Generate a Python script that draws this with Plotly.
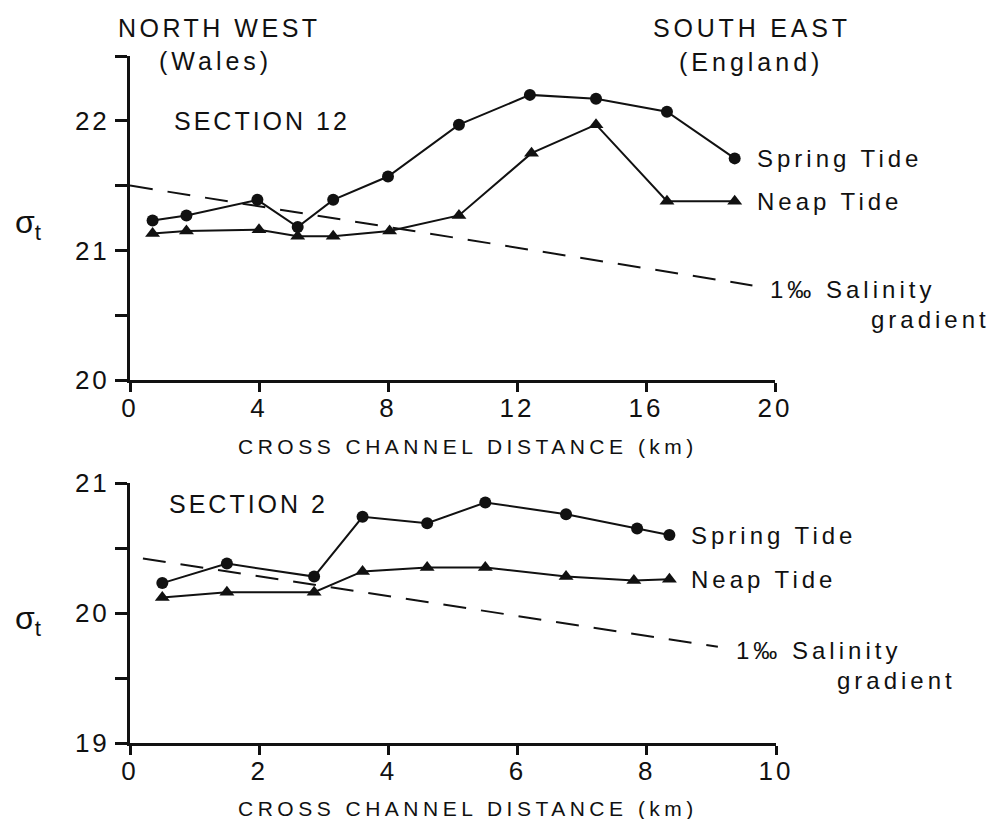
import plotly.graph_objects as go

# ---- data: Section 12 (cross-channel distance in km, sigma-t) ----
s12_spring_x = [0.7, 1.75, 3.95, 5.2, 6.3, 8.0, 10.2, 12.4, 14.45, 16.65, 18.75]
s12_spring_y = [21.23, 21.27, 21.39, 21.18, 21.39, 21.57, 21.97, 22.2, 22.17, 22.07, 21.71]
s12_neap_x = [0.7, 1.75, 4.0, 5.2, 6.3, 8.05, 10.2, 12.45, 14.45, 16.65, 18.75]
s12_neap_y = [21.13, 21.15, 21.16, 21.11, 21.11, 21.15, 21.27, 21.75, 21.97, 21.38, 21.38]
s12_grad_x = [0.0, 19.3]
s12_grad_y = [21.5, 20.73]

# ---- data: Section 2 ----
s2_spring_x = [0.5, 1.5, 2.85, 3.6, 4.6, 5.5, 6.75, 7.85, 8.35]
s2_spring_y = [20.23, 20.38, 20.28, 20.74, 20.69, 20.85, 20.76, 20.65, 20.6]
s2_neap_x = [0.5, 1.5, 2.85, 3.6, 4.6, 5.5, 6.75, 7.8, 8.35]
s2_neap_y = [20.12, 20.16, 20.16, 20.32, 20.35, 20.35, 20.28, 20.25, 20.26]
s2_grad_x = [0.2, 9.1]
s2_grad_y = [20.42, 19.74]

s12_xticks = [0, 4, 8, 12, 16, 20]
s2_xticks = [0, 2, 4, 6, 8, 10]
s12_yticks = [20, 21, 22]
s2_yticks = [19, 20, 21]

W, H = 995, 819
FONT = "Liberation Sans, Arial, Helvetica, sans-serif"
INK = "#111111"


def px(x):
    return x / W


def py(y):
    return 1 - y / H


def spaced(text, sp=4):
    return f'<span style="letter-spacing:{sp}px">{text}</span>'


fig = go.Figure()

line_style = dict(color=INK, width=2)
for xs, ys, xa, ya in [
    (s12_spring_x, s12_spring_y, "x", "y"),
    (s2_spring_x, s2_spring_y, "x2", "y2"),
]:
    fig.add_trace(go.Scatter(x=xs, y=ys, xaxis=xa, yaxis=ya, mode="lines+markers",
                             line=line_style,
                             marker=dict(symbol="circle", size=12, color=INK),
                             showlegend=False))
for xs, ys, xa, ya in [
    (s12_neap_x, s12_neap_y, "x", "y"),
    (s2_neap_x, s2_neap_y, "x2", "y2"),
]:
    fig.add_trace(go.Scatter(x=xs, y=ys, xaxis=xa, yaxis=ya, mode="lines+markers",
                             line=line_style,
                             marker=dict(symbol="triangle-up", size=13, color=INK),
                             showlegend=False))
for xs, ys, xa, ya in [
    (s12_grad_x, s12_grad_y, "x", "y"),
    (s2_grad_x, s2_grad_y, "x2", "y2"),
]:
    fig.add_trace(go.Scatter(x=xs, y=ys, xaxis=xa, yaxis=ya, mode="lines",
                             line=dict(color=INK, width=2, dash="23px,15px"),
                             showlegend=False))

axis_common = dict(showline=True, linecolor=INK, linewidth=3, ticks="outside",
                   tickwidth=3, tickcolor=INK, showgrid=False,
                   zeroline=False, mirror=False, automargin=False,
                   tickfont=dict(family=FONT, size=26, color=INK))
x_common = dict(ticklen=9, ticklabelstandoff=-6, **axis_common)
y_common = dict(ticklen=12,
                minor=dict(ticks="outside", dtick=0.5, ticklen=12, tickwidth=3,
                           tickcolor=INK, showgrid=False),
                **axis_common)

fig.update_layout(
    width=W, height=H,
    margin=dict(l=0, r=0, t=0, b=0, pad=0, autoexpand=False),
    paper_bgcolor="white", plot_bgcolor="white",
    showlegend=False,
    xaxis=dict(domain=[px(130), px(775)], range=[0, 20], anchor="y",
               tickvals=s12_xticks, ticktext=[spaced(str(v), 3) for v in s12_xticks],
               **x_common),
    yaxis=dict(domain=[py(380), py(56)], range=[20, 22.5], anchor="x",
               tickvals=s12_yticks, ticktext=[spaced(str(v), 3) for v in s12_yticks],
               **y_common),
    xaxis2=dict(domain=[px(130), px(776)], range=[0, 10], anchor="y2",
                tickvals=s2_xticks, ticktext=[spaced(str(v), 3) for v in s2_xticks],
                **x_common),
    yaxis2=dict(domain=[py(743), py(483)], range=[19, 21], anchor="x2",
                tickvals=s2_yticks, ticktext=[spaced(str(v), 3) for v in s2_yticks],
                **y_common),
)

ann = []


def label(text, x, y, size=24, xanchor="center", xref="paper", yref="paper",
          xshift=0, yshift=0, sp=4):
    ann.append(dict(text=spaced(text, sp), x=x, y=y, xref=xref, yref=yref,
                    xanchor=xanchor, yanchor="middle", showarrow=False,
                    xshift=xshift, yshift=yshift,
                    font=dict(family=FONT, size=size, color=INK)))


# shore headings
label("NORTH WEST", px(219), py(28), size=25, sp=3.5)
label("(Wales)", px(215), py(61), size=25)
label("SOUTH EAST", px(752), py(28), size=25, sp=3.8)
label("(England)", px(751), py(62), size=25)

# section titles
label("SECTION 12", px(172), py(121), size=25, xanchor="left", sp=3)
label("SECTION 2", px(167), py(504), size=25, xanchor="left", sp=3)

# axis titles
label("CROSS CHANNEL DISTANCE (km)", px(468), py(447), size=21, sp=4.5)
label("CROSS CHANNEL DISTANCE (km)", px(468), py(808), size=21, sp=4.5)
for yy in (py(224), py(620)):
    ann.append(dict(text="σ<sub>t</sub>", x=px(28), y=yy, xref="paper", yref="paper",
                    showarrow=False, xanchor="center", yanchor="middle",
                    font=dict(family=FONT, size=32, color=INK)))

# series labels next to the last point of each curve
for sx, sy, nx, ny, gx, gy, xr, yr in [
    (s12_spring_x, s12_spring_y, s12_neap_x, s12_neap_y, s12_grad_x, s12_grad_y, "x", "y"),
    (s2_spring_x, s2_spring_y, s2_neap_x, s2_neap_y, s2_grad_x, s2_grad_y, "x2", "y2"),
]:
    label("Spring Tide", sx[-1], sy[-1], size=24, xanchor="left", xref=xr, yref=yr, xshift=20)
    label("Neap Tide", nx[-1], ny[-1], size=24, xanchor="left", xref=xr, yref=yr, xshift=20)
    label("1‰ Salinity", gx[-1], gy[-1], size=24, xanchor="left", xref=xr, yref=yr,
          xshift=16, yshift=-4)
    label("gradient", gx[-1], gy[-1], size=24, xanchor="right", xref=xr, yref=yr,
          xshift=240, yshift=-34)

fig.update_layout(annotations=ann)
fig.write_html("out.html")
